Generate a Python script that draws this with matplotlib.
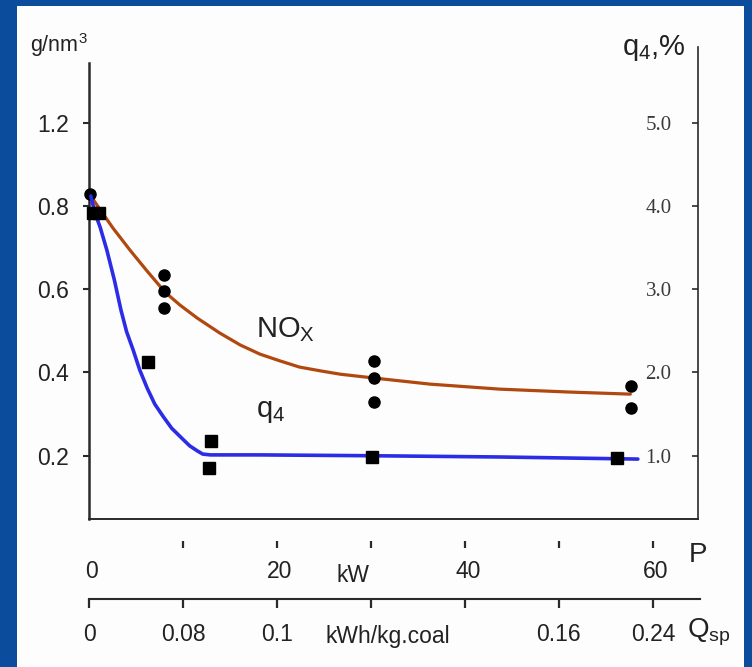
import matplotlib.pyplot as plt
import matplotlib.transforms as mtransforms
from matplotlib.patches import Rectangle

plt.rcParams["font.family"] = ["Liberation Sans", "DejaVu Sans"]
plt.rcParams["mathtext.default"] = "regular"

# NOx measurements, g/nm3, against power P (kW)
nox_p = [0.1, 8.0, 8.0, 8.0, 30.3, 30.3, 30.3, 57.7, 57.7]
nox_val = [0.83, 0.634, 0.596, 0.555, 0.428, 0.387, 0.329, 0.368, 0.315]
# NOx fitted curve
nox_fit_p = [0.1, 0.4, 1.5, 2.55, 4.36, 6.17, 8.09, 9.68, 11.5, 13.9, 16.1, 18.2, 20.3, 22.4,
             24.6, 26.7, 30.2, 36.3, 43.7, 51.1, 57.6]
nox_fit = [0.824, 0.817, 0.781, 0.747, 0.694, 0.644, 0.593, 0.562, 0.531, 0.495, 0.466, 0.444,
           0.428, 0.413, 0.404, 0.396, 0.387, 0.372, 0.360, 0.353, 0.348]

# q4 measurements, %, against power P (kW)
q4_p = [0.4, 1.1, 6.3, 13.0, 12.8, 30.1, 56.2]
q4_val = [3.92, 3.92, 2.13, 1.18, 0.85, 0.985, 0.97]
# q4 fitted curve
q4_fit_p = [0.2, 0.6, 1.2, 1.9, 2.7, 3.4, 4.0, 4.7, 5.4, 6.2, 7.0, 7.9, 8.8, 9.7, 10.7, 11.5,
            12.1, 12.9, 18.2, 30.1, 43.7, 58.4]
q4_fit = [4.12, 3.93, 3.74, 3.47, 3.11, 2.75, 2.49, 2.27, 2.03, 1.81, 1.62, 1.47, 1.33, 1.23,
          1.12, 1.06, 1.02, 1.01, 1.01, 1.00, 0.985, 0.96]

left_ticks = [0.2, 0.4, 0.6, 0.8, 1.0]
left_labels = ["0.2", "0.4", "0.6", "0.8", "1.2"]
right_ticks = [1, 2, 3, 4, 5]
right_labels = ["1.0", "2.0", "3.0", "4.0", "5.0"]
p_ticks = [0, 10, 20, 30, 40, 50, 60]
p_labels = ["0", "", "20", "", "40", "", "60"]
q_labels = ["0", "0.08", "0.1", "", "", "0.16", "0.24"]

W, H = 752, 667
BROWN = "#b0480f"
BLUE = "#2c2ce6"
DARK = "#2a2a2a"
TXT = "#222222"


def fx(px):
    return px / W


def fy(py):
    return 1 - py / H


fig = plt.figure(figsize=(W / 100, H / 100), dpi=100, facecolor="#0b4c9c")
fig.add_artist(Rectangle((fx(17), 0), fx(744) - fx(17), fy(6), transform=fig.transFigure,
                         facecolor="#fdfdfd", edgecolor="none", zorder=0))

ax = fig.add_axes([fx(89), fy(519), fx(698) - fx(89), fy(47) - fy(519)])
ax.patch.set_visible(False)
ax.set_xlim(0, 64.8)
ax.set_ylim(0.048, 1.182)
ax2 = ax.twinx()
ax2.set_ylim(0.24, 5.91)

for s in ["top", "right"]:
    ax.spines[s].set_visible(False)
for s in ["top", "left", "bottom"]:
    ax2.spines[s].set_visible(False)
ax.spines["left"].set_linewidth(1.8)
ax.spines["left"].set_color(DARK)
ax.spines["left"].set_bounds(0.048, 1.143)
ax.spines["bottom"].set_linewidth(1.4)
ax.spines["bottom"].set_color(DARK)
ax2.spines["right"].set_linewidth(1.2)
ax2.spines["right"].set_color(DARK)

ax.set_xticks([])
ax.set_yticks(left_ticks)
ax.set_yticklabels(left_labels, fontsize=16.5, color=TXT)
ax.tick_params(axis="y", direction="out", length=4.5, width=1.5, pad=10, color=DARK)

ax2.set_yticks(right_ticks)
ax2.set_yticklabels(right_labels, ha="right", fontfamily="Liberation Serif", fontsize=15, color="#3a3a3a")
ax2.tick_params(axis="y", direction="in", length=4.5, width=1.2, pad=-19, color=DARK)

ax.plot(nox_fit_p, nox_fit, color=BROWN, lw=2.3, solid_capstyle="round", zorder=2)
ax.plot(nox_p, nox_val, "o", color="black", ms=8, clip_on=False, zorder=4)
ax2.plot(q4_fit_p, q4_fit, color=BLUE, lw=2.6, solid_capstyle="round", zorder=2)
ax2.plot(q4_p, q4_val, "s", color="black", ms=8.5, clip_on=False, zorder=4)

ax.text(17.8, 0.485, "NO$_X$", fontsize=21, va="baseline", color=TXT)
ax2.text(17.8, 1.465, "q$_4$", fontsize=21, va="baseline", color=TXT)

fig.text(fx(30), fy(52), "g/nm$^3$", fontsize=15.5, va="baseline", color=TXT)
fig.text(fx(622), fy(55), "q$_4$,%", fontsize=21, va="baseline", color=TXT)
fig.text(fx(689), fy(562), "P", fontsize=20, va="baseline", color=TXT)
fig.text(fx(687), fy(638), "Q$_{sp}$", fontsize=20, va="baseline", color=TXT)

# power axis (tick marks only, no line)
axP = fig.add_axes([fx(89), fy(548), fx(698) - fx(89), 0.001])
axP.patch.set_visible(False)
for s in axP.spines.values():
    s.set_visible(False)
axP.set_xlim(0, 64.8)
axP.set_yticks([])
axP.set_xticks(p_ticks)
axP.set_xticklabels(p_labels, fontsize=16.5, color=TXT)
axP.tick_params(axis="x", direction="in", length=5, width=1.6, pad=9, color=DARK)
axP.xaxis.get_major_ticks()[0].tick1line.set_visible(False)
shift = mtransforms.ScaledTranslation(3 / 100, 0, fig.dpi_scale_trans)
for lbl in axP.get_xticklabels():
    lbl.set_transform(lbl.get_transform() + shift)
tP = mtransforms.blended_transform_factory(axP.transData, fig.transFigure)
axP.text(28.1, fy(582), "kW", fontsize=16.5, ha="center", va="baseline", color=TXT, transform=tP)

# specific heat axis
axQ = fig.add_axes([fx(89), fy(599), fx(700) - fx(89), 0.001])
axQ.patch.set_visible(False)
for s in ["top", "left", "right"]:
    axQ.spines[s].set_visible(False)
axQ.spines["bottom"].set_linewidth(1.5)
axQ.spines["bottom"].set_color(DARK)
axQ.set_xlim(0, 64.8 * 611 / 609)
axQ.set_yticks([])
axQ.set_xticks(p_ticks)
axQ.set_xticklabels(q_labels, fontsize=16.5, color=TXT)
axQ.tick_params(axis="x", direction="out", length=6.5, width=1.6, pad=10.5, color=DARK)
tQ = mtransforms.blended_transform_factory(axQ.transData, fig.transFigure)
axQ.text(31.8, fy(643), "kWh/kg.coal", fontsize=16.5, ha="center", va="baseline", color=TXT, transform=tQ)

fig.savefig("out.png", dpi=100, facecolor=fig.get_facecolor())
